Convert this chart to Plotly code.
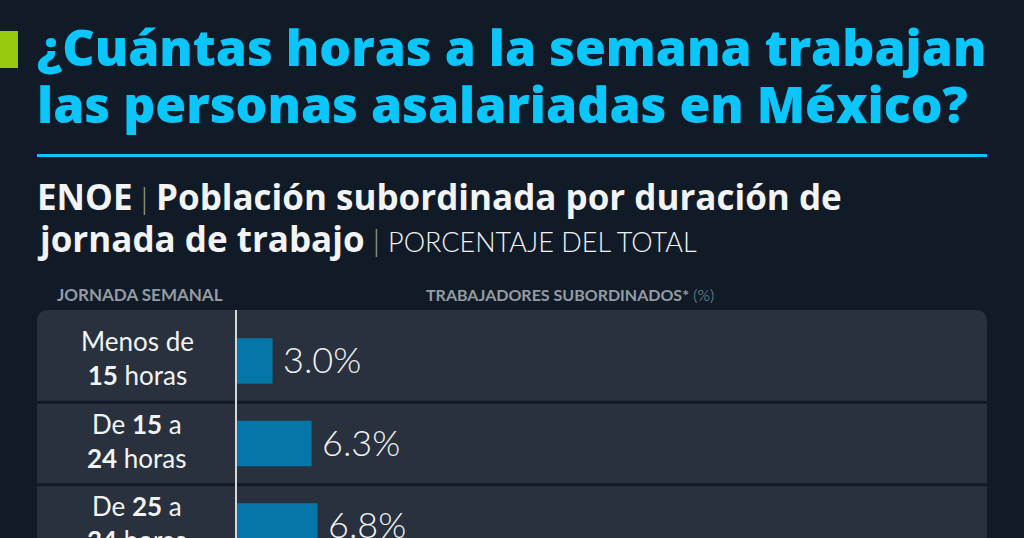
import plotly.graph_objects as go

W, H = 1024, 538

# ---- data ----
categories = ["Menos de 15 horas", "De 15 a 24 horas", "De 25 a 34 horas"]
label_line1 = ["Menos de", "De <b>15</b> a", "De <b>25</b> a"]
label_line2 = ["<b>15</b> horas", "<b>24</b> horas", "<b>34</b> horas"]
values = [3.0, 6.3, 6.8]
value_labels = ["3.0%", "6.3%", "6.8%"]

# ---- style ----
BG = "#111b28"
PANEL = "#28313d"
BAR = "#0477a8"
CYAN = "#0bc6fb"
GREEN = "#97c90e"
WHITE = "#f2f3f4"
GRAY = "#959ba3"
FONT = "Lato"
TITLE_FONT = "Open Sans"
HEAD_FONT = "Lato"


def px(x):
    return x / W


def py(y):
    return 1 - y / H


fig = go.Figure(
    go.Bar(
        x=values,
        y=categories,
        orientation="h",
        width=0.55,
        marker=dict(color=BAR, line=dict(width=0)),
        hoverinfo="skip",
    )
)

# panel with rounded top corners
x0, x1, yt, yb, r = 37, 987, 310, 560, 12
pts = [
    ("M", x0, yb), ("L", x0, yt + r), ("Q", x0, yt, x0 + r, yt),
    ("L", x1 - r, yt), ("Q", x1, yt, x1, yt + r), ("L", x1, yb),
]
path = ""
for p in pts:
    cmd = p[0]
    coords = p[1:]
    s = []
    for i in range(0, len(coords), 2):
        s.append(f"{px(coords[i]):.5f},{py(coords[i+1]):.5f}")
    path += cmd + " " + " ".join(s) + " "
path += "Z"

shapes = [
    dict(type="path", xref="paper", yref="paper", path=path,
         fillcolor=PANEL, line=dict(width=0), layer="below"),
    dict(type="rect", xref="paper", yref="paper", x0=px(0), x1=px(18),
         y0=py(31), y1=py(68), fillcolor=GREEN, line=dict(width=0)),
    dict(type="line", xref="paper", yref="paper", x0=px(37), x1=px(987),
         y0=py(155.5), y1=py(155.5), line=dict(color=CYAN, width=3)),
]
for k in range(len(categories) - 1):
    shapes.append(dict(type="line", xref="paper", yref="y", x0=px(37), x1=px(987),
                       y0=k + 0.5, y1=k + 0.5, line=dict(color=BG, width=3),
                       layer="below"))

BOLD = "<span style='font-family:Open Sans;font-weight:700;font-size:35px'>"
BAR_SEP = "<span style='color:#9aa0a8'>|</span>"

ann = []
# title
ann.append(dict(text="¿Cuántas horas a la semana trabajan", x=px(35), y=py(47),
                xanchor="left", yanchor="middle",
                font=dict(family=TITLE_FONT, size=50, color=CYAN, weight=800)))
ann.append(dict(text="las personas asalariadas en México?", x=px(35), y=py(104),
                xanchor="left", yanchor="middle",
                font=dict(family=TITLE_FONT, size=50, color=CYAN, weight=800)))
# subtitle
ann.append(dict(text=BOLD + "ENOE</span> " + BAR_SEP + " " + BOLD +
                "Población subordinada por duración de</span>",
                x=px(35), y=py(196), xanchor="left", yanchor="middle",
                font=dict(family=FONT, size=30, color=WHITE, weight=300)))
ann.append(dict(text=BOLD + "jornada de trabajo</span> " + BAR_SEP +
                " <span style='font-size:27px'>PORCENTAJE DEL TOTAL</span>",
                x=px(35), y=py(239), xanchor="left", yanchor="middle",
                font=dict(family=FONT, size=30, color=WHITE, weight=300)))
# column headers
ann.append(dict(text="JORNADA SEMANAL", x=px(139.5), y=py(294), xanchor="center",
                yanchor="middle", font=dict(family=HEAD_FONT, size=17, color=GRAY, weight=700)))
ann.append(dict(text="TRABAJADORES SUBORDINADOS*<span style='font-weight:300'> (%)</span>",
                x=px(424), y=py(294), xanchor="left",
                yanchor="middle", font=dict(family=HEAD_FONT, size=16, color=GRAY, weight=700)))

# category labels
for c, l1, l2 in zip(categories, label_line1, label_line2):
    ann.append(dict(text=l1 + "<br>" + l2, x=px(137), xref="paper", y=c, yref="y",
                    xanchor="center", yanchor="middle", align="center", yshift=3,
                    font=dict(family=FONT, size=26, color=WHITE, weight=400)))

# value labels
for c, v, t in zip(categories, values, value_labels):
    ann.append(dict(text=t, x=v, xref="x", y=c, yref="y", xanchor="left",
                    yanchor="middle", xshift=8, yshift=2,
                    font=dict(family=FONT, size=36, color=WHITE, weight=300)))

for a in ann:
    a.setdefault("xref", "paper")
    a.setdefault("yref", "paper")
    a["showarrow"] = False

fig.update_layout(
    width=W, height=H,
    margin=dict(l=0, r=0, t=0, b=0),
    paper_bgcolor=BG,
    plot_bgcolor="rgba(0,0,0,0)",
    showlegend=False,
    shapes=shapes,
    annotations=ann,
    xaxis=dict(domain=[px(237), px(987)], range=[0, 63.3], showgrid=False,
               zeroline=False, showticklabels=False, fixedrange=True),
    yaxis=dict(domain=[0, py(310)], range=[2.145, -0.618], showgrid=False,
               zeroline=False, showticklabels=False, showline=True,
               linecolor="#d4d8dc", linewidth=1.5, fixedrange=True),
)

fig.write_html("out.html", config={"displayModeBar": False})
